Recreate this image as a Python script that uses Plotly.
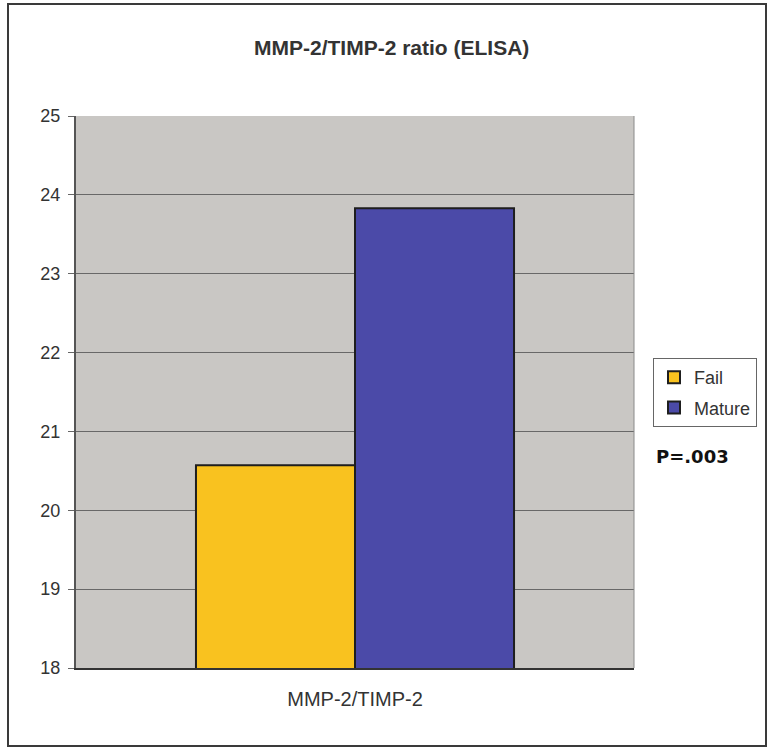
import plotly.graph_objects as go

# Data
categories = ["MMP-2/TIMP-2"]
groups = ["Fail", "Mature"]
ratios = [20.57, 23.83]
bar_colors = ["#F9C21F", "#4B4AA8"]
y_ticks = [18, 19, 20, 21, 22, 23, 24, 25]

# Plot-area pixel geometry inside the 774x749 page
W, H = 774, 749
L, R, T, B = 76, 634, 116, 668


def px(x):
    return (x - L) / (R - L)


def py(y):
    return (B - y) / (B - T)


fig = go.Figure()
for name, val, col in zip(groups, ratios, bar_colors):
    fig.add_trace(go.Bar(
        x=categories, y=[val], name=name, legendgroup=name,
        marker=dict(color=col, line=dict(color="#1e1e1e", width=2)),
    ))

font_family = "Liberation Sans, Arial, sans-serif"

fig.update_layout(
    width=W, height=H,
    margin=dict(l=L, r=W - R, t=T, b=H - B),
    paper_bgcolor="white",
    plot_bgcolor="#C9C7C4",
    barmode="group",
    bargap=0.43,
    bargroupgap=0,
    font=dict(family=font_family, color="#333333"),
    showlegend=True,
    legend=dict(
        x=px(653), y=py(358), xanchor="left", yanchor="top",
        bgcolor="white", bordercolor="#666666", borderwidth=1,
        font=dict(size=18, color="#333333", family=font_family),
        tracegroupgap=4, itemwidth=30,
    ),
    xaxis=dict(
        showgrid=False, showline=True, linecolor="#333333", linewidth=2,
        mirror=False, ticks="", tickfont=dict(size=20, color="#333333"),
        ticklabelstandoff=12,
    ),
    yaxis=dict(
        range=[18, 25], tickvals=y_ticks,
        showgrid=True, gridcolor="#686868", gridwidth=1,
        showline=True, linecolor="#555555", linewidth=2,
        ticks="outside", ticklen=6, tickcolor="#666666",
        tickfont=dict(size=18, color="#333333"),
        ticklabelstandoff=4,
        zeroline=False,
    ),
    shapes=[
        # outer frame
        dict(type="rect", xref="paper", yref="paper",
             x0=px(8), x1=px(766), y0=py(746), y1=py(4),
             line=dict(color="#3a3a3a", width=2), layer="below"),
        # right edge of the plot area
        dict(type="line", xref="paper", yref="paper",
             x0=1, x1=1, y0=0, y1=1,
             line=dict(color="#8a8a8a", width=1)),
    ],
    annotations=[
        dict(text="<b>MMP-2/TIMP-2 ratio (ELISA)</b>", xref="paper", yref="paper",
             x=px(391), y=py(48), xanchor="center", yanchor="middle",
             showarrow=False, font=dict(size=21, color="#333333", family=font_family)),
        dict(text="<b>P=.003</b>", xref="paper", yref="paper",
             x=px(654), y=py(456), xanchor="left", yanchor="middle",
             showarrow=False, font=dict(size=18, color="#111111", family="DejaVu Sans, sans-serif")),
    ],
)

fig.write_html("out.html")
